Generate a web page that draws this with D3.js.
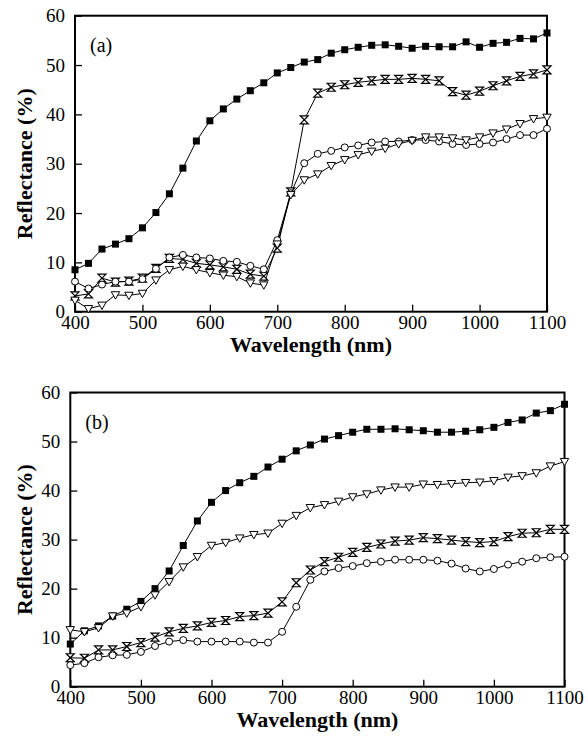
<!DOCTYPE html>
<html>
<head>
<meta charset="utf-8">
<script src="https://cdn.jsdelivr.net/npm/d3@7"></script>
<style>
  body { margin: 0; background: #fff; }
  text { font-family: "Liberation Serif", "Times New Roman", serif; fill: #000; }
</style>
</head>
<body>
<div class="box"></div>
<script>
// Wavelengths (nm)
const wavelength = [400, 420, 440, 460, 480, 500, 520, 540, 560, 580, 600, 620, 640, 660, 680, 700,
                    720, 740, 760, 780, 800, 820, 840, 860, 880, 900, 920, 940, 960, 980, 1000,
                    1020, 1040, 1060, 1080, 1100];
const xTicks = [400, 500, 600, 700, 800, 900, 1000, 1100];
const yTicks = [0, 10, 20, 30, 40, 50, 60];

// panel (a)
const aSquare = [8.5, 9.8, 12.7, 13.7, 14.8, 17.0, 20.1, 23.9, 29.1, 34.6, 38.7, 41.1, 43.1, 44.8, 46.4, 48.4,
                 49.5, 50.6, 51.1, 52.4, 53.1, 53.6, 54.0, 54.1, 53.8, 53.4, 53.8, 53.7, 53.7, 54.7, 53.6,
                 54.4, 54.6, 55.4, 55.3, 56.5];
const aHourglass = [3.2, 3.6, 6.8, 6.0, 6.2, 6.8, 8.8, 10.8, 10.6, 9.8, 9.5, 9.1, 8.6, 7.6, 7.2, 12.9,
                    24.3, 38.9, 44.3, 45.5, 46.0, 46.5, 46.8, 47.1, 47.1, 47.3, 47.1, 46.8, 44.6, 43.9, 44.7,
                    45.8, 46.8, 47.7, 48.2, 49.0];
const aCircle = [6.1, 4.7, 5.5, 6.1, 6.1, 6.6, 8.7, 11.0, 11.5, 11.0, 10.8, 10.3, 10.1, 9.3, 8.6, 14.5,
                 24.0, 30.1, 32.0, 32.6, 33.3, 33.7, 34.3, 34.5, 34.5, 34.8, 34.8, 34.5, 34.0, 33.8, 34.0,
                 34.3, 35.0, 35.8, 35.8, 37.1];
const aTriangle = [2.3, 0.6, 1.3, 3.4, 3.3, 3.7, 6.4, 8.5, 9.2, 8.5, 7.9, 7.4, 7.1, 5.8, 5.4, 13.7,
                   23.7, 26.7, 27.9, 29.6, 30.8, 31.8, 32.5, 33.1, 34.0, 34.7, 35.4, 35.4, 35.2, 34.8, 35.4,
                   36.2, 37.0, 38.1, 39.1, 39.4];

// panel (b)
const bSquare = [8.7, 11.4, 12.4, 14.4, 15.8, 17.4, 20.0, 23.6, 28.8, 33.8, 37.6, 40.0, 41.6, 42.9, 44.8, 46.4,
                 48.1, 49.3, 50.5, 51.2, 51.9, 52.5, 52.5, 52.6, 52.4, 52.2, 51.9, 51.9, 52.1, 52.4, 52.9,
                 53.9, 54.4, 55.8, 56.3, 57.6];
const bTriangle = [11.6, 11.2, 12.0, 14.4, 15.0, 16.3, 18.7, 21.4, 24.4, 26.5, 28.8, 29.4, 30.3, 31.0, 31.3, 33.3,
                   34.9, 36.5, 37.1, 37.8, 38.7, 39.3, 40.1, 40.7, 40.7, 41.3, 41.2, 41.4, 41.6, 41.7, 42.0,
                   42.7, 43.0, 43.6, 45.0, 45.9];
const bHourglass = [5.9, 5.8, 7.5, 7.5, 8.2, 9.0, 10.1, 11.2, 11.9, 12.4, 13.1, 13.5, 14.3, 14.5, 15.0, 17.3,
                    21.2, 23.8, 25.5, 26.4, 27.4, 28.4, 29.1, 29.7, 29.9, 30.4, 30.2, 29.9, 29.6, 29.4, 29.6,
                    30.6, 31.3, 31.4, 32.1, 32.1];
const bCircle = [4.4, 4.8, 6.0, 6.4, 6.5, 7.1, 8.3, 9.2, 9.5, 9.2, 9.2, 9.2, 9.2, 9.0, 9.0, 11.2,
                 16.3, 21.8, 23.5, 24.2, 24.6, 25.2, 25.5, 25.9, 25.9, 25.9, 25.7, 25.1, 24.1, 23.5, 24.0,
                 24.9, 25.5, 26.2, 26.4, 26.5];

const svg = d3.select('.box')
              .append('svg')
              .attr('width', 588)
              .attr('height', 744)
              .style('background', '#fff');

// marker shapes
const markers = {
  square:    sel => sel.append('rect').attr('x', -3.5).attr('y', -3.5).attr('width', 7).attr('height', 7)
                       .attr('fill', '#000'),
  circle:    sel => sel.append('circle').attr('r', 3.5).attr('fill', '#fff').attr('stroke', '#000').attr('stroke-width', 1),
  triangle:  sel => sel.append('path').attr('d', 'M-4.2,-3.2L4.2,-3.2L0,4.2Z')
                       .attr('fill', '#fff').attr('stroke', '#000').attr('stroke-width', 1),
  hourglass: sel => sel.append('path').attr('d', 'M-4,-4L4,-4L-4,4L4,4Z')
                       .attr('fill', '#fff').attr('stroke', '#000').attr('stroke-width', 1.2)
};

function panel(box, label, series) {
  const x = d3.scaleLinear().domain([400, 1100]).range([box.left, box.right]);
  const y = d3.scaleLinear().domain([0, 60]).range([box.bottom, box.top]);

  const g = svg.append('g');

  const axeX = d3.axisBottom(x).tickValues(xTicks).tickFormat(d3.format('d'))
                 .tickSizeInner(-7).tickSizeOuter(0).tickPadding(4);
  const axeY = d3.axisLeft(y).tickValues(yTicks).tickFormat(d3.format('d'))
                 .tickSizeInner(-7).tickSizeOuter(0).tickPadding(10);

  const gx = g.append('g').attr('transform', `translate(0, ${box.bottom})`).call(axeX);
  const gy = g.append('g').attr('transform', `translate(${box.left}, 0)`).call(axeY);
  [gx, gy].forEach(a => {
    a.attr('font-family', null).attr('font-size', null);
    a.select('.domain').remove();
    a.selectAll('line').attr('stroke', '#000').attr('stroke-width', 1.3);
    a.selectAll('text').style('font-size', '19px').attr('fill', '#000');
  });

  g.append('rect')
   .attr('x', box.left).attr('y', box.top)
   .attr('width', box.right - box.left).attr('height', box.bottom - box.top)
   .attr('fill', 'none').attr('stroke', '#000').attr('stroke-width', 2);

  const line = d3.line().x((d, i) => x(wavelength[i])).y(d => y(d));

  series.forEach(s => {
    g.append('path')
     .attr('d', line(s.values))
     .attr('fill', 'none').attr('stroke', '#000').attr('stroke-width', 1);
  });
  series.forEach(s => {
    const pts = g.selectAll(null)
                 .data(s.values)
                 .enter()
                 .append('g')
                 .attr('transform', (d, i) => `translate(${x(wavelength[i])}, ${y(d)})`);
    markers[s.shape](pts);
  });

  g.append('text')
   .attr('x', box.left + 15).attr('y', box.top + 36)
   .style('font-size', '20px')
   .text(label);

  g.append('text')
   .attr('x', (box.left + box.right) / 2).attr('y', box.bottom + 40)
   .attr('text-anchor', 'middle')
   .style('font-size', '22px').style('font-weight', 'bold')
   .text('Wavelength (nm)');

  g.append('text')
   .attr('transform', `translate(32, ${(box.top + box.bottom) / 2}) rotate(-90)`)
   .attr('text-anchor', 'middle')
   .style('font-size', '22px').style('font-weight', 'bold')
   .text('Reflectance (%)');
}

panel({left: 75, right: 547, top: 15.7, bottom: 311.7}, '(a)', [
  {values: aSquare, shape: 'square'},
  {values: aHourglass, shape: 'hourglass'},
  {values: aCircle, shape: 'circle'},
  {values: aTriangle, shape: 'triangle'}
]);

panel({left: 70.3, right: 564.5, top: 392.5, bottom: 686.7}, '(b)', [
  {values: bSquare, shape: 'square'},
  {values: bTriangle, shape: 'triangle'},
  {values: bHourglass, shape: 'hourglass'},
  {values: bCircle, shape: 'circle'}
]);
</script>
</body>
</html>
